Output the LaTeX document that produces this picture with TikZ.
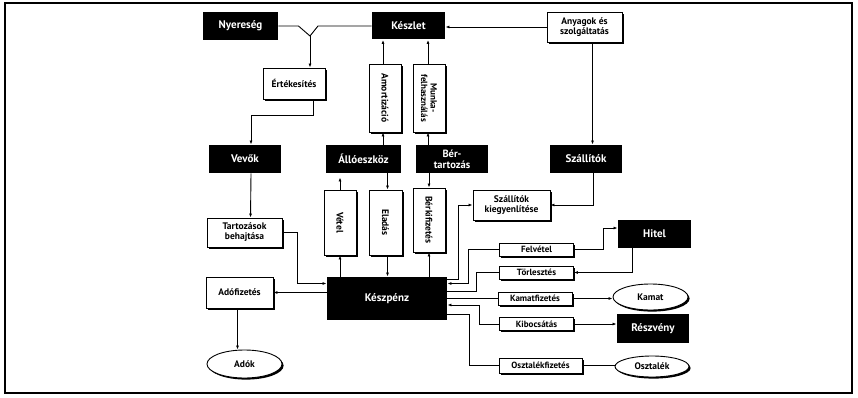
\documentclass[tikz,border=0pt]{standalone}
\usepackage{fontspec}
\setmainfont{PT Sans}
\usetikzlibrary{shapes.geometric,shadows,arrows.meta}

\begin{document}
\begin{tikzpicture}[x=1pt,y=-1pt,line width=0.9pt,
  dark/.style={fill=black,text=white,font=\bfseries\fontsize{11}{11.5}\selectfont,align=center,inner sep=1pt},
  light/.style={draw,fill=white,font=\bfseries\fontsize{9.5}{10}\selectfont,align=center,inner sep=1pt,
    drop shadow={shadow xshift=1.6pt,shadow yshift=-1.6pt,opacity=1,fill=black}},
  tiny/.style={light,font=\bfseries\fontsize{9}{9.5}\selectfont,minimum width=74,minimum height=13},
  oval/.style={ellipse,light},
  flow/.style={-{Latex[length=4pt,width=3pt]}}]
\useasboundingbox (0,0) rectangle (858,398);
\draw[line width=1.4pt] (5,3) rectangle (852,393);

\node[dark,minimum width=75,minimum height=28] (nyer) at (240.5,26) {Nyereség};
\node[dark,minimum width=73,minimum height=27] (keszlet) at (408.5,26) {Készlet};
\node[light,minimum width=75,minimum height=30] (anyag) at (584.5,27) {Anyagok és\\szolgáltatás};
\node[light,minimum width=62,minimum height=31] (ertek) at (294,83.5) {Értékesítés};
\node[light,minimum width=32,minimum height=68] (amort) at (385,98) {\rotatebox{-90}{Amortizáció}};
\node[light,minimum width=32,minimum height=68,font=\bfseries\fontsize{9}{9.5}\selectfont] (munka) at (429,98) {\rotatebox{-90}{\shortstack{Munka-\\felhasználás}}};
\node[dark,minimum width=72,minimum height=28] (vevok) at (245,159) {Vevők};
\node[dark,minimum width=75,minimum height=28] (allo) at (363.5,159) {Állóeszköz};
\node[dark,minimum width=72,minimum height=28,font=\bfseries\fontsize{10.5}{11}\selectfont] (bert) at (452,159) {Bér-\\tartozás};
\node[dark,minimum width=72,minimum height=28] (szall) at (586,159) {Szállítók};
\node[light,minimum width=32,minimum height=65] (vetel) at (340,222.5) {\rotatebox{-90}{Vétel}};
\node[light,minimum width=33,minimum height=65] (eladas) at (385.5,222.5) {\rotatebox{-90}{Eladás}};
\node[light,minimum width=32,minimum height=64] (berki) at (429,220) {\rotatebox{-90}{Bérkifizetés}};
\node[light,minimum width=77,minimum height=30] (szkieg) at (511.5,205) {Szállítók\\kiegyenlítése};
\node[light,minimum width=75,minimum height=29] (tartoz) at (244.5,232.5) {Tartozások\\behajtása};
\node[dark,minimum width=120,minimum height=43] (keszp) at (387,298.5) {Készpénz};
\node[light,minimum width=67,minimum height=31] (adofiz) at (239.5,292.5) {Adófizetés};
\node[oval,minimum width=75,minimum height=28] (adok) at (244.5,364) {Adók};
\node[dark,minimum width=73,minimum height=28] (hitel) at (654.5,234) {Hitel};
\node[tiny] (felvetel) at (536.5,249.5) {Felvétel};
\node[tiny] (torl) at (536.5,272.5) {Törlesztés};
\node[tiny] (kamatf) at (535,298.5) {Kamatfizetés};
\node[tiny] (kibocs) at (536.5,324) {Kibocsátás};
\node[tiny,minimum width=83,minimum height=15] (osztf) at (540.5,365.5) {Osztalékfizetés};
\node[oval,minimum width=75,minimum height=26] (kamat) at (650.5,297) {Kamat};
\node[dark,minimum width=72,minimum height=29] (reszv) at (653,328.5) {Részvény};
\node[oval,minimum width=74,minimum height=21] (osztalek) at (652,366.5) {Osztalék};

\coordinate (fork) at (310,36);
\draw (nyer.east) -- ++(20,0) -- (fork) -- ++(8,-10) -- (keszlet.west);
\draw[flow] (fork) -- (fork |- ertek.north);
\draw[flow] ([xshift=19pt]ertek.south) -- ++(0,16) -| ([xshift=6pt]vevok.north);
\draw[flow] ([xshift=6pt]vevok.south) -- ([xshift=6pt]tartoz.north);
\draw[flow] (tartoz.east) -- ++(15,0) |- ([yshift=15pt]keszp.west);
\draw[flow] (keszp.west |- adofiz.east) -- (adofiz.east);
\draw[flow] ([xshift=-2pt]adofiz.south) -- ([xshift=-2pt]adofiz.south |- adok.north);

\draw[flow] (anyag.west) -- (anyag.west -| keszlet.east);
\draw[flow] ([xshift=8pt]anyag.south) -- ([xshift=8pt]anyag.south |- szall.north);
\draw[flow] ([xshift=7pt]szall.south) |- (szkieg.east);
\draw[flow] ([yshift=19.5pt]keszp.east) -- ++(11,0) |- (szkieg.west);

\draw[flow] ([xshift=-2pt]amort.north) -- ([xshift=-2pt]amort.north |- keszlet.south);
\draw[flow] ([xshift=-2pt]amort.south |- allo.north) -- ([xshift=-2pt]amort.south);
\draw[flow] ([xshift=-1pt]munka.north) -- ([xshift=-1pt]munka.north |- keszlet.south);
\draw[flow] ([xshift=-1pt]munka.south |- bert.north) -- ([xshift=-1pt]munka.south);
\draw[flow] (vetel.south |- keszp.north) -- (vetel.south);
\draw[flow] (vetel.north) -- ([yshift=-4pt]vetel.north |- allo.south);
\draw[flow] ([xshift=2pt]eladas.north |- allo.south) -- ([xshift=2pt]eladas.north);
\draw[flow] ([xshift=2pt]eladas.south) -- ([xshift=2pt]eladas.south |- keszp.north);
\draw[flow] (berki.north |- bert.south) -- (berki.north);
\draw[flow] (berki.south |- keszp.north) -- (berki.south);

\draw[flow] (felvetel.west) -- ++(-31,0) |- ([yshift=15pt]keszp.east);
\draw[flow] (felvetel.east) -- ++(29,0) |- ([yshift=6pt]hitel.west);
\draw[flow] ([xshift=-22pt]hitel.south) |- (torl.east);
\draw (torl.west) -- ++(-23,0) |- ([yshift=7pt]keszp.east);
\draw (keszp.east) -- (kamatf.west);
\draw[flow] (kamatf.east) -- (kamatf.east -| kamat.west);
\draw[flow] (kibocs.west) -- ++(-20,0) |- ([yshift=-6.5pt]keszp.east);
\draw[flow] (kibocs.east) -- (kibocs.east -| reszv.west);
\draw (osztf.west) -- ++(-29,0) |- ([yshift=-15.5pt]keszp.east);
\draw (osztf.east) -- (osztf.east -| osztalek.west);
\end{tikzpicture}
\end{document}
